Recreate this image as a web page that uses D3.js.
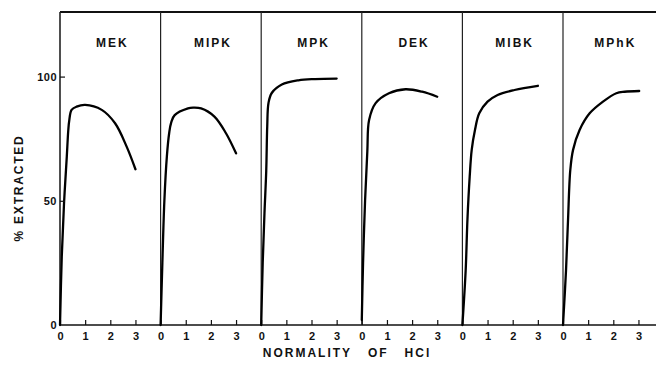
<!DOCTYPE html>
<html>
<head>
<meta charset="utf-8">
<script src="https://cdn.jsdelivr.net/npm/d3@7"></script>
<style>
  html, body { margin: 0; padding: 0; background: #fff; }
  svg { display: block; }
  text { font-family: "Liberation Sans", Arial, sans-serif; font-weight: bold; fill: #111; }
</style>
</head>
<body>
<svg id="chart" width="656" height="370"></svg>
<script>
// ---- data ----
const panels = ["MEK", "MIPK", "MPK", "DEK", "MIBK", "MPhK"];
const xTicks = [0, 1, 2, 3];
const yTicks = [0, 50, 100];

// [normality of HCl, % extracted]
const MEK  = [[0,0],[0.07,27.5],[0.16,49],[0.27,67.8],[0.33,78.5],[0.37,82.5],[0.46,86.6],[0.66,87.9],[1.0,88.6],[1.66,86.6],[2.19,81.2],[2.65,71.8],[3,62.7]];
const MIPK = [[0,0],[0.07,25],[0.15,50],[0.25,68],[0.34,77.2],[0.42,81.5],[0.56,84.5],[1.09,87.2],[1.29,87.5],[1.61,87.2],[2.14,83.9],[2.6,77.2],[3,69.1]];
const MPK  = [[0,0],[0.06,25],[0.13,45],[0.2,62],[0.24,80],[0.29,89.4],[0.42,93.4],[0.82,96.8],[1.48,98.5],[2.14,99],[3,99.2]];
const DEK  = [[0,2],[0.05,25],[0.13,50],[0.22,70],[0.29,82.5],[0.55,89.3],[1.08,93.3],[1.74,94.9],[2.4,93.9],[3,91.9]];
const MIBK = [[0,0],[0.13,22],[0.2,42.3],[0.29,59.7],[0.37,70.5],[0.5,78.5],[0.67,85.2],[1.0,89.9],[1.4,92.6],[2.07,94.6],[3,96.3]];
const MPhK = [[0,0],[0.12,22],[0.2,42.3],[0.29,62.4],[0.4,70.5],[0.66,78.5],[1.06,85.2],[1.59,89.9],[2.12,93.3],[2.45,93.9],[3.03,94.2]];
const series = [MEK, MIPK, MPK, DEK, MIBK, MPhK];

const yTitle = "% EXTRACTED";
const xTitle = "NORMALITY   OF   HCl";

// ---- layout ----
const svg = d3.select("#chart");
const mLeft = 60, mTop = 12, mBottom = 325, panelW = 100.6;

const px = d3.scaleBand().domain(panels).range([mLeft, mLeft + panelW * panels.length]).paddingInner(0).paddingOuter(0);
const x = d3.scaleLinear().domain([0, 4]).range([0, px.bandwidth()]);
const y = d3.scaleLinear().domain([0, 126]).range([mBottom, mTop]);

const line = d3.line().x(d => x(d[0])).y(d => y(d[1])).curve(d3.curveCatmullRom.alpha(0.5));

// top border and bottom axis line
svg.append("line").attr("x1", mLeft).attr("x2", 656).attr("y1", y(126)).attr("y2", y(126))
  .attr("stroke", "#111").attr("stroke-width", 2);
svg.append("line").attr("x1", mLeft).attr("x2", 656).attr("y1", y(0)).attr("y2", y(0))
  .attr("stroke", "#111").attr("stroke-width", 1.6);

panels.forEach((name, i) => {
  const g = svg.append("g").attr("transform", `translate(${px(name)},0)`);

  // panel separator
  g.append("line").attr("x1", 0).attr("x2", 0).attr("y1", y(126)).attr("y2", y(0))
    .attr("stroke", "#222").attr("stroke-width", i === 0 ? 1.6 : 1.2);

  // x axis
  const xa = g.append("g").attr("transform", `translate(0,${y(0)})`)
    .call(d3.axisBottom(x).tickValues(xTicks).tickSize(-5).tickPadding(7).tickFormat(d3.format("d")));
  xa.select(".domain").remove();
  xa.selectAll("line").attr("stroke", "#111").attr("stroke-width", 1.2);
  xa.selectAll("text").attr("font-size", 11).style("font-family", "'Liberation Sans', Arial, sans-serif").style("font-weight", "bold");

  // panel label
  g.append("text").attr("x", px.bandwidth() / 2 + 2).attr("y", 47)
    .attr("text-anchor", "middle").attr("font-size", 12).attr("letter-spacing", 2)
    .text(name);

  // curve
  g.append("path").datum(series[i]).attr("d", line)
    .attr("fill", "none").attr("stroke", "#000").attr("stroke-width", 2.3)
    .attr("stroke-linecap", "round").attr("stroke-linejoin", "round");
});

// y axis
const ya = svg.append("g").attr("transform", `translate(${mLeft},0)`)
  .call(d3.axisLeft(y).tickValues(yTicks).tickSize(-5).tickPadding(3));
ya.select(".domain").remove();
ya.selectAll("line").attr("stroke", "#111").attr("stroke-width", 1.2);
ya.selectAll("text").attr("font-size", 11).attr("letter-spacing", 0.5).style("font-family", "'Liberation Sans', Arial, sans-serif").style("font-weight", "bold");
ya.selectAll(".tick").filter(d => d === 0).select("line").remove();

// axis titles
svg.append("text").attr("x", 347).attr("y", 357).attr("text-anchor", "middle")
  .attr("font-size", 12).attr("letter-spacing", 2).style("white-space", "pre").text(xTitle);
svg.append("text").attr("transform", `translate(23,188) rotate(-90)`).attr("text-anchor", "middle")
  .attr("font-size", 12).attr("letter-spacing", 1.8).text(yTitle);
</script>
</body>
</html>
